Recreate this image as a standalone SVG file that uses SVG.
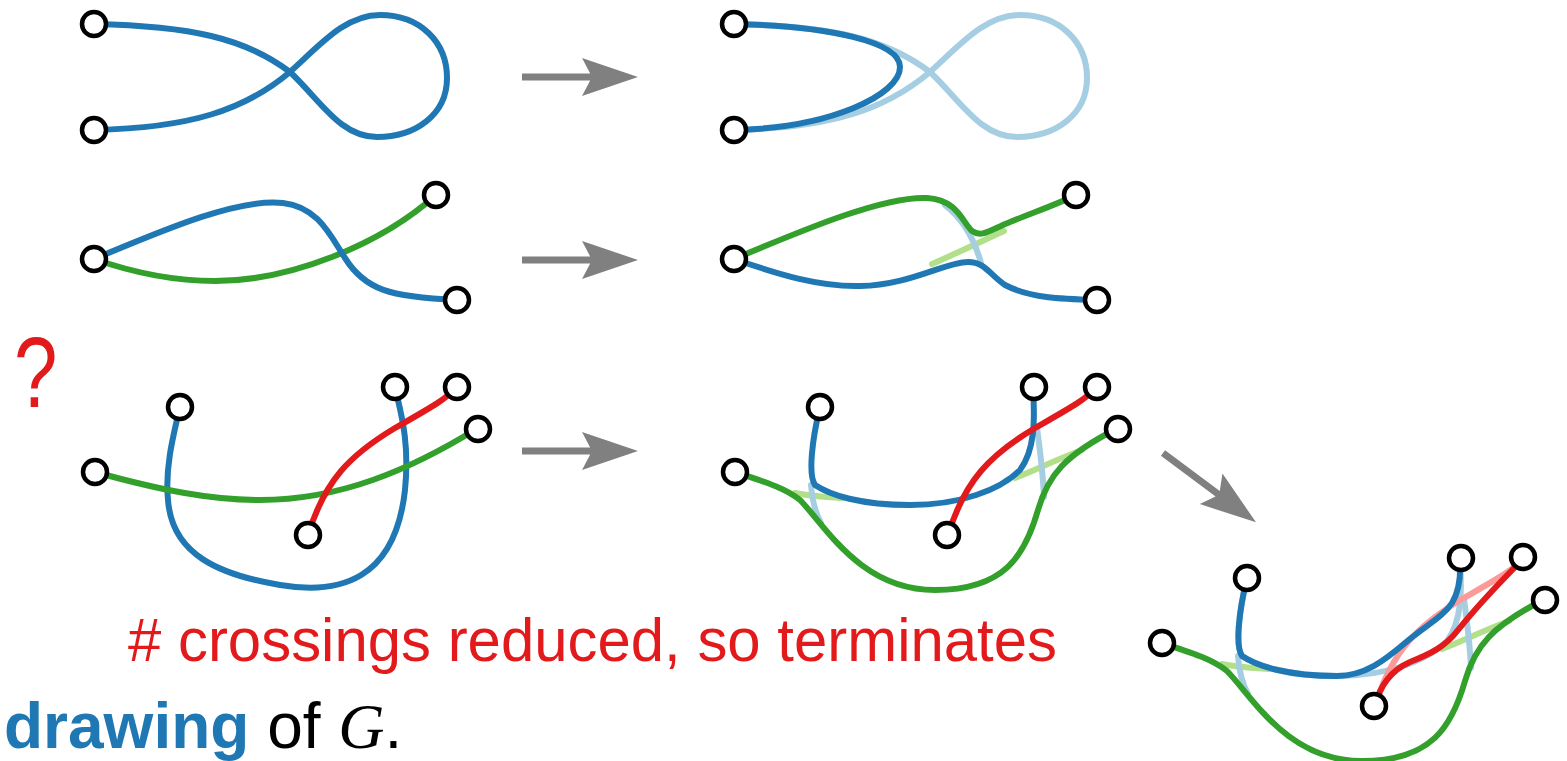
<svg xmlns="http://www.w3.org/2000/svg" width="1567" height="761" viewBox="0 0 1567 761">
  <style>
    .e { fill: none; stroke-width: 6; stroke-linecap: round; stroke-linejoin: round; }
    .b { stroke: #1f78b4; }
    .lb { stroke: #a6cee3; }
    .g { stroke: #33a02c; }
    .lg { stroke: #b2df8a; }
    .r { stroke: #e31a1c; }
    .lr { stroke: #fb9a99; }
    .v { fill: #ffffff; stroke: #000000; stroke-width: 4.5; }
    .arrow { fill: #808080; }
    .lbl { font-family: "Liberation Sans", Arial, sans-serif; }
  </style>
  <defs>
    <path id="arr" d="M0,-3.5 H68.2 L60,-19 L116,0 L60,19 L68.2,3.5 H0 Z"/>
    <circle id="vx" r="12"/>
  </defs>

  <rect width="1567" height="761" fill="#ffffff"/>

  <!-- transition arrows -->
  <g id="arrows" class="arrow">
    <use href="#arr" transform="translate(522,77)"/>
    <use href="#arr" transform="translate(522,260)"/>
    <use href="#arr" transform="translate(522,451)"/>
    <use href="#arr" transform="translate(1163,453) rotate(36.7)"/>
  </g>

  <!-- edges -->
  <g id="connectors">
    <!-- row 1: self-crossing edge -->
    <path class="e b" d="M94,24 C190,26 245,38 290,72 C320,100 340,137 377,137 C415,137 447,115 447,78 C447,42 420,15 380,15 C345,15 320,45 290,72 C245,110 190,128 94,130"/>
    <!-- row 1 redrawn -->
    <path class="e lb" d="M734,24 C830,26 885,38 930,72 C960,100 980,137 1017,137 C1055,137 1087,115 1087,78 C1087,42 1060,15 1020,15 C985,15 960,45 930,72 C885,110 830,128 734,130"/>
    <path class="e b" d="M734,24 C830,26 900,42 900,67 C900,95 830,128 734,130"/>

    <!-- row 2: two edges sharing an endpoint, crossing once -->
    <path class="e g" d="M94,259 C140,275 180,281 215,281 C290,281 380,245 436,195"/>
    <path class="e b" d="M94,259 C170,227 240,198 283,203 C318,207 330,235 345,258 C365,290 390,297 457,300"/>
    <!-- row 2 redrawn -->
    <path class="e lg" d="M932,264 C955,254 980,242 1004,231"/>
    <path class="e lb" d="M945,205 C962,218 974,238 981,263"/>
    <path class="e b" d="M734,259 C780,275 820,287 860,286 C910,285 945,262 968,262 C985,262 990,275 1005,285 C1030,298 1060,299 1097,300"/>
    <path class="e g" d="M734,259 C810,227 885,196 927,198 C958,200 962,222 972,231 C982,238 990,230 1010,222 C1040,210 1060,203 1076,195"/>

    <!-- row 3: original drawing -->
    <path class="e b" d="M180,407 C172,440 165,470 168,500 C172,555 220,575 280,585 C340,595 395,580 405,490 C410,440 400,410 395,387"/>
    <path class="e g" d="M95,472 C160,490 210,500 260,500 C340,500 410,470 478,428"/>
    <path class="e r" d="M308,535 C325,480 350,455 395,428 C430,408 445,400 457,387"/>

    <!-- row 3: after first swap -->
    <path class="e lg" d="M795,493 C810,496 825,497 842,498"/>
    <path class="e lb" d="M811,485 C812,500 815,512 821,523"/>
    <path class="e lg" d="M1015,478 C1040,468 1060,458 1082,450"/>
    <path class="e lb" d="M1037,428 C1040,450 1043,475 1044,497"/>
    <path class="e b" d="M820,407 C812,440 808,475 815,485 C830,495 860,505 910,505 C960,505 1000,490 1020,470 C1035,450 1035,420 1033,387"/>
    <path class="e g" d="M735,472 C765,482 785,488 800,500 C825,525 860,590 935,590 C1005,590 1025,555 1038,510 C1048,475 1065,455 1118,428"/>
    <path class="e r" d="M948,535 C965,480 990,455 1035,428 C1070,408 1085,400 1097,387"/>

    <!-- row 3: after second swap -->
    <g transform="translate(427,171)">
      <path class="e lg" d="M795,493 C810,496 825,497 842,498"/>
      <path class="e lb" d="M811,485 C812,500 815,512 821,523"/>
      <path class="e lg" d="M1015,478 C1040,468 1060,458 1082,450"/>
      <path class="e lb" d="M1037,428 C1040,450 1043,475 1044,497"/>
      <path class="e lb" d="M820,407 C812,440 808,475 815,485 C830,495 860,505 910,505 C960,505 1000,490 1020,470 C1035,450 1035,420 1033,387"/>
      <path class="e lr" d="M948,535 C965,480 990,455 1035,428 C1070,408 1085,400 1097,387"/>
      <path class="e g" d="M735,472 C765,482 785,488 800,500 C825,525 860,590 935,590 C1005,590 1025,555 1038,510 C1048,475 1065,455 1118,428"/>
    </g>
    <path class="e b" d="M1247,578 C1239,611 1235,646 1242,656 C1257,666 1287,676 1337,676 C1365,676 1385,660 1405,643 C1425,626 1443,617 1452,603 C1460,590 1461,575 1460,558"/>
    <path class="e r" d="M1375,706 C1380,685 1392,670 1410,662 C1430,654 1445,647 1458,630 C1478,605 1505,577 1524,558"/>
  </g>

  <!-- vertices -->
  <g id="row1-left" class="v">
    <use href="#vx" x="94" y="24"/>
    <use href="#vx" x="94" y="130"/>
  </g>
  <g id="row1-right" class="v">
    <use href="#vx" x="734" y="24"/>
    <use href="#vx" x="734" y="130"/>
  </g>
  <g id="row2-left" class="v">
    <use href="#vx" x="94" y="259"/>
    <use href="#vx" x="436" y="195"/>
    <use href="#vx" x="457" y="300"/>
  </g>
  <g id="row2-right" class="v">
    <use href="#vx" x="734" y="259"/>
    <use href="#vx" x="1076" y="195"/>
    <use href="#vx" x="1097" y="300"/>
  </g>
  <g id="row3-left" class="v">
    <use href="#vx" x="95" y="472"/>
    <use href="#vx" x="180" y="407"/>
    <use href="#vx" x="395" y="387"/>
    <use href="#vx" x="457" y="387"/>
    <use href="#vx" x="478" y="429"/>
    <use href="#vx" x="308" y="535"/>
  </g>
  <g id="row3-middle" class="v">
    <use href="#vx" x="735" y="472"/>
    <use href="#vx" x="820" y="407"/>
    <use href="#vx" x="1034" y="387"/>
    <use href="#vx" x="1097" y="387"/>
    <use href="#vx" x="1118" y="429"/>
    <use href="#vx" x="947" y="535"/>
  </g>
  <g id="row3-right" class="v">
    <use href="#vx" x="1162" y="643"/>
    <use href="#vx" x="1247" y="578"/>
    <use href="#vx" x="1461" y="558"/>
    <use href="#vx" x="1523" y="557"/>
    <use href="#vx" x="1545" y="600"/>
    <use href="#vx" x="1374" y="706"/>
  </g>

  <!-- labels -->
  <g id="labels">
    <text class="lbl" transform="translate(14,407) scale(0.78,1)" font-size="100" fill="#e31a1c">?</text>
    <text class="lbl" x="128" y="661" font-size="62" fill="#e31a1c" textLength="929" lengthAdjust="spacingAndGlyphs"># crossings reduced, so terminates</text>
    <text class="lbl" x="4" y="748" font-size="64"><tspan fill="#1f78b4" font-weight="bold">drawing</tspan><tspan fill="#000000"> of </tspan><tspan font-family="Liberation Serif, serif" font-style="italic">G</tspan><tspan>.</tspan></text>
  </g>
</svg>
